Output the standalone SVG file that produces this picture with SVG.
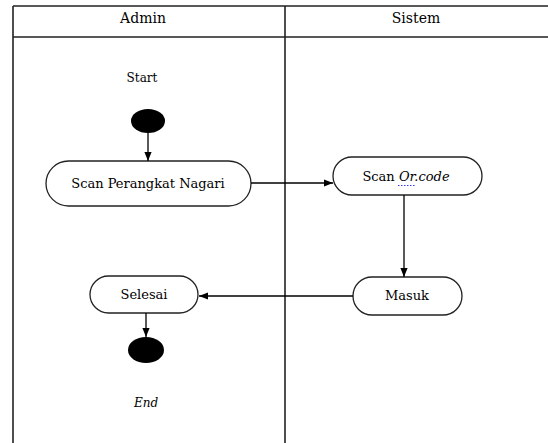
<svg xmlns="http://www.w3.org/2000/svg" width="548" height="443" viewBox="0 0 548 443">
  <defs>
    <style>
      .t { font-family: "DejaVu Serif", "Liberation Serif", serif; fill: #000; text-anchor: middle; }
      .h { font-size: 14px; }
      .b { font-size: 13px; }
      .s { font-size: 12px; }
      .lane { stroke: #222; stroke-width: 1.6; fill: none; }
      .act { fill: #fff; stroke: #222; stroke-width: 1.3; }
      .dot { fill: #000; }
      .flow { stroke: #000; stroke-width: 1.3; fill: none; marker-end: url(#arrow); }
      .it { font-style: italic; }
    </style>
    <marker id="arrow" viewBox="0 0 10 10" refX="10" refY="5" markerWidth="9" markerHeight="9" markerUnits="userSpaceOnUse" orient="auto">
      <path d="M0,1 L10,5 L0,9 z" fill="#000"/>
    </marker>
  </defs>

  <rect width="548" height="443" fill="#fff"/>

  <!-- swimlane frame -->
  <g id="swimlanes">
    <path class="lane" d="M13,6 H560 M13,37 H560 M13,6 V443 M285,6 V443"/>
    <text class="t h" x="143" y="23">Admin</text>
    <text class="t h" x="416" y="23">Sistem</text>
  </g>

  <g id="start">
    <text class="t s" x="142" y="82">Start</text>
    <ellipse class="dot" cx="148" cy="121" rx="17" ry="12"/>
  </g>

  <g id="scan-perangkat">
    <rect class="act" x="46" y="161" width="205" height="45" rx="22.5"/>
    <text class="t b" x="148" y="188">Scan Perangkat Nagari</text>
  </g>

  <g id="scan-qr">
    <rect class="act" x="333" y="157" width="149" height="38" rx="19"/>
    <text class="t b" x="406" y="181">Scan <tspan class="it">Or.code</tspan></text>
    <path d="M398,185.5 H415" stroke="#3b3bf0" stroke-width="1" stroke-dasharray="1.5,1.5"/>
  </g>

  <g id="masuk">
    <rect class="act" x="353" y="277" width="109" height="38" rx="19"/>
    <text class="t b" x="407" y="300">Masuk</text>
  </g>

  <g id="selesai">
    <rect class="act" x="90" y="276" width="108" height="37" rx="18.5"/>
    <text class="t b" x="144" y="299">Selesai</text>
  </g>

  <g id="end">
    <ellipse class="dot" cx="146" cy="350" rx="18" ry="13"/>
    <text class="t s it" x="146" y="407">End</text>
  </g>

  <!-- connectors -->
  <g id="connectors">
    <path class="flow" d="M148,133 V161"/>
    <path class="flow" d="M251,183 H333"/>
    <path class="flow" d="M404,195 V277"/>
    <path class="flow" d="M353,296 H199"/>
    <path class="flow" d="M146,313 V337"/>
  </g>
</svg>
